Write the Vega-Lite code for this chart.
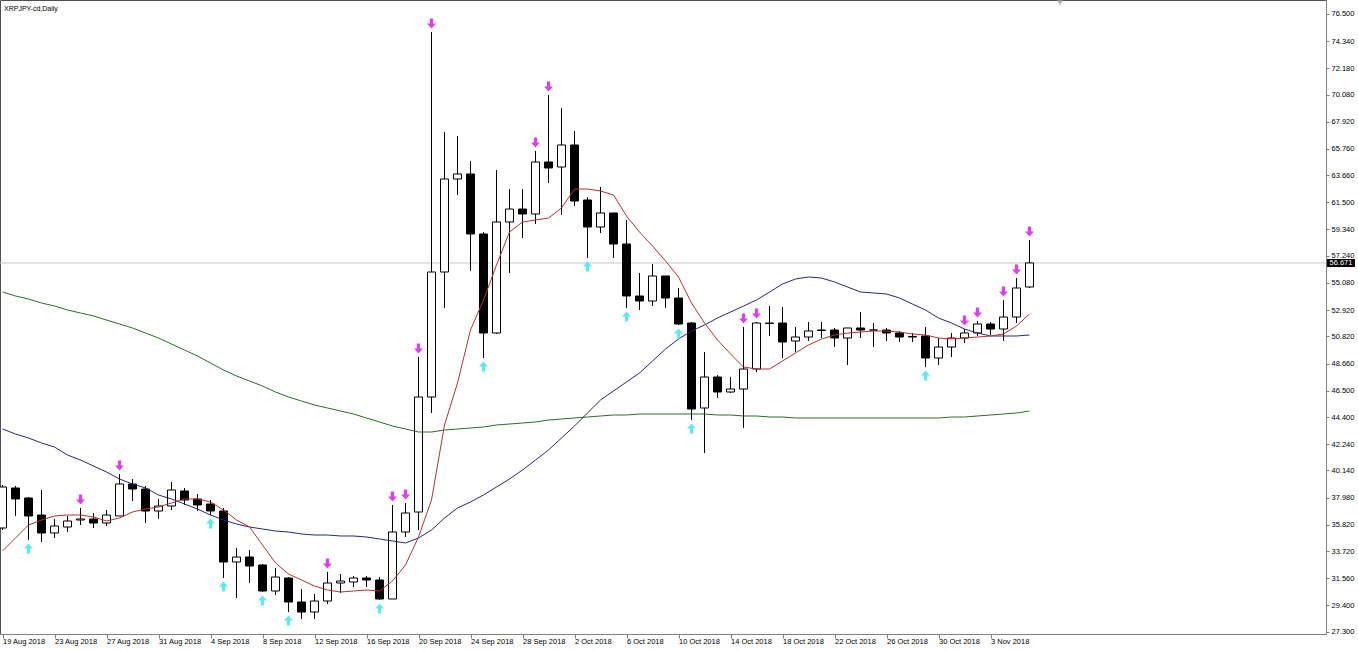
{
  "$schema": "https://vega.github.io/schema/vega-lite/v6.json",
  "width": 1326,
  "height": 634,
  "autosize": {"type": "none"},
  "padding": {"left": 0, "top": 0, "right": 32, "bottom": 17},
  "background": "#ffffff",
  "title": {"text": "XRPJPY-cd,Daily", "anchor": "start", "frame": "group", "offset": -12, "dx": 4, "font": "Liberation Sans", "fontSize": 7, "fontWeight": "normal", "color": "#000000"},
  "datasets": {
    "candles": [
      {"d":"2018-08-19","o":35.56,"h":38.985,"l":35.4,"c":38.825},
      {"d":"2018-08-20","o":38.746,"h":38.905,"l":36.516,"c":37.87},
      {"d":"2018-08-21","o":37.949,"h":38.029,"l":34.604,"c":36.516},
      {"d":"2018-08-22","o":36.595,"h":38.586,"l":34.445,"c":35.162},
      {"d":"2018-08-23","o":35.162,"h":36.277,"l":34.763,"c":35.719},
      {"d":"2018-08-24","o":35.639,"h":36.516,"l":35.241,"c":36.117},
      {"d":"2018-08-25","o":36.197,"h":37.153,"l":35.799,"c":36.277},
      {"d":"2018-08-26","o":36.277,"h":36.755,"l":35.56,"c":35.958},
      {"d":"2018-08-27","o":35.958,"h":36.993,"l":35.719,"c":36.595},
      {"d":"2018-08-28","o":36.516,"h":39.861,"l":36.516,"c":39.064},
      {"d":"2018-08-29","o":39.064,"h":39.463,"l":37.71,"c":38.666},
      {"d":"2018-08-30","o":38.666,"h":38.905,"l":35.958,"c":36.914},
      {"d":"2018-08-31","o":36.914,"h":37.87,"l":36.277,"c":37.312},
      {"d":"2018-09-01","o":37.312,"h":39.224,"l":36.993,"c":38.586},
      {"d":"2018-09-02","o":38.507,"h":38.746,"l":37.392,"c":37.79},
      {"d":"2018-09-03","o":37.87,"h":38.268,"l":36.914,"c":37.392},
      {"d":"2018-09-04","o":37.471,"h":37.79,"l":36.595,"c":36.914},
      {"d":"2018-09-05","o":36.914,"h":37.153,"l":31.577,"c":32.852},
      {"d":"2018-09-06","o":32.852,"h":33.967,"l":29.984,"c":33.25},
      {"d":"2018-09-07","o":33.25,"h":33.807,"l":31.179,"c":32.533},
      {"d":"2018-09-08","o":32.613,"h":32.692,"l":30.462,"c":30.542},
      {"d":"2018-09-09","o":30.542,"h":32.374,"l":30.223,"c":31.657},
      {"d":"2018-09-10","o":31.577,"h":31.657,"l":28.869,"c":29.666},
      {"d":"2018-09-11","o":29.666,"h":30.701,"l":28.312,"c":28.869},
      {"d":"2018-09-12","o":28.869,"h":30.303,"l":28.312,"c":29.745},
      {"d":"2018-09-13","o":29.745,"h":32.055,"l":29.506,"c":31.179},
      {"d":"2018-09-14","o":31.179,"h":31.896,"l":30.383,"c":31.338},
      {"d":"2018-09-15","o":31.259,"h":31.737,"l":30.86,"c":31.577},
      {"d":"2018-09-16","o":31.577,"h":31.737,"l":30.86,"c":31.418},
      {"d":"2018-09-17","o":31.418,"h":31.657,"l":29.825,"c":29.905},
      {"d":"2018-09-18","o":29.905,"h":37.392,"l":29.905,"c":35.241},
      {"d":"2018-09-19","o":35.241,"h":37.551,"l":34.843,"c":36.755},
      {"d":"2018-09-20","o":36.834,"h":49.18,"l":35.4,"c":45.994},
      {"d":"2018-09-21","o":45.994,"h":75.066,"l":44.72,"c":55.95},
      {"d":"2018-09-22","o":55.95,"h":67.101,"l":53.083,"c":63.358},
      {"d":"2018-09-23","o":63.358,"h":66.783,"l":62.083,"c":63.756},
      {"d":"2018-09-24","o":63.756,"h":64.791,"l":56.03,"c":58.977},
      {"d":"2018-09-25","o":58.977,"h":59.136,"l":49.1,"c":51.092},
      {"d":"2018-09-26","o":51.092,"h":64.074,"l":51.012,"c":59.933},
      {"d":"2018-09-27","o":59.933,"h":62.561,"l":55.871,"c":60.968},
      {"d":"2018-09-28","o":60.968,"h":62.561,"l":58.658,"c":60.57},
      {"d":"2018-09-29","o":60.57,"h":65.588,"l":59.773,"c":64.712},
      {"d":"2018-09-30","o":64.712,"h":70.048,"l":63.039,"c":64.234},
      {"d":"2018-10-01","o":64.313,"h":69.013,"l":60.49,"c":66.066},
      {"d":"2018-10-02","o":66.066,"h":67.181,"l":61.207,"c":61.605},
      {"d":"2018-10-03","o":61.685,"h":61.924,"l":57.065,"c":59.534},
      {"d":"2018-10-04","o":59.534,"h":62.72,"l":59.057,"c":60.65},
      {"d":"2018-10-05","o":60.65,"h":60.65,"l":57.065,"c":58.18},
      {"d":"2018-10-06","o":58.18,"h":60.092,"l":53.083,"c":54.039},
      {"d":"2018-10-07","o":54.039,"h":55.871,"l":52.923,"c":53.64},
      {"d":"2018-10-08","o":53.64,"h":56.587,"l":53.242,"c":55.632},
      {"d":"2018-10-09","o":55.632,"h":55.632,"l":53.083,"c":53.879},
      {"d":"2018-10-10","o":53.879,"h":54.676,"l":51.729,"c":51.808},
      {"d":"2018-10-11","o":51.888,"h":51.968,"l":44.162,"c":45.038},
      {"d":"2018-10-12","o":45.118,"h":49.578,"l":41.534,"c":47.587},
      {"d":"2018-10-13","o":47.587,"h":47.746,"l":45.914,"c":46.392},
      {"d":"2018-10-14","o":46.392,"h":47.587,"l":46.313,"c":46.631},
      {"d":"2018-10-15","o":46.631,"h":51.569,"l":43.525,"c":48.224},
      {"d":"2018-10-16","o":48.224,"h":51.968,"l":47.985,"c":51.888},
      {"d":"2018-10-17","o":51.848,"h":53.242,"l":50.853,"c":51.888},
      {"d":"2018-10-18","o":51.888,"h":53.162,"l":49.1,"c":50.375},
      {"d":"2018-10-19","o":50.454,"h":51.569,"l":49.578,"c":50.773},
      {"d":"2018-10-20","o":50.773,"h":51.968,"l":50.454,"c":51.251},
      {"d":"2018-10-21","o":51.291,"h":51.968,"l":50.693,"c":51.33},
      {"d":"2018-10-22","o":51.33,"h":51.49,"l":49.976,"c":50.693},
      {"d":"2018-10-23","o":50.693,"h":51.49,"l":48.543,"c":51.49},
      {"d":"2018-10-24","o":51.49,"h":52.764,"l":50.693,"c":51.33},
      {"d":"2018-10-25","o":51.33,"h":51.888,"l":49.976,"c":51.33},
      {"d":"2018-10-26","o":51.33,"h":51.49,"l":50.454,"c":51.092},
      {"d":"2018-10-27","o":51.092,"h":51.251,"l":50.375,"c":50.773},
      {"d":"2018-10-28","o":50.813,"h":51.092,"l":50.375,"c":50.773},
      {"d":"2018-10-29","o":50.853,"h":51.569,"l":48.383,"c":49.1},
      {"d":"2018-10-30","o":49.1,"h":50.693,"l":48.543,"c":49.976},
      {"d":"2018-10-31","o":49.976,"h":51.092,"l":49.18,"c":50.693},
      {"d":"2018-11-01","o":50.693,"h":51.41,"l":50.295,"c":51.092},
      {"d":"2018-11-02","o":51.092,"h":52.047,"l":50.853,"c":51.808},
      {"d":"2018-11-03","o":51.808,"h":51.968,"l":50.932,"c":51.41},
      {"d":"2018-11-04","o":51.41,"h":53.72,"l":50.454,"c":52.366},
      {"d":"2018-11-05","o":52.366,"h":55.472,"l":51.888,"c":54.676},
      {"d":"2018-11-06","o":54.755,"h":58.499,"l":54.676,"c":56.671}
    ],
    "ma": [
      {"d":"2018-08-19","r":33.728,"b":43.445,"g":54.357},
      {"d":"2018-08-20","r":34.763,"b":43.047,"g":54.039},
      {"d":"2018-08-21","r":35.799,"b":42.728,"g":53.8},
      {"d":"2018-08-22","r":36.197,"b":42.33,"g":53.481},
      {"d":"2018-08-23","r":36.516,"b":42.011,"g":53.242},
      {"d":"2018-08-24","r":36.595,"b":41.374,"g":52.923},
      {"d":"2018-08-25","r":36.595,"b":40.976,"g":52.685},
      {"d":"2018-08-26","r":36.436,"b":40.498,"g":52.446},
      {"d":"2018-08-27","r":36.117,"b":40.02,"g":52.127},
      {"d":"2018-08-28","r":36.356,"b":39.463,"g":51.808},
      {"d":"2018-08-29","r":36.834,"b":39.064,"g":51.49},
      {"d":"2018-08-30","r":37.073,"b":38.746,"g":51.092},
      {"d":"2018-08-31","r":37.232,"b":38.188,"g":50.693},
      {"d":"2018-09-01","r":37.551,"b":37.87,"g":50.215},
      {"d":"2018-09-02","r":37.87,"b":37.471,"g":49.737},
      {"d":"2018-09-03","r":37.87,"b":37.073,"g":49.26},
      {"d":"2018-09-04","r":37.631,"b":36.595,"g":48.702},
      {"d":"2018-09-05","r":36.993,"b":36.197,"g":48.144},
      {"d":"2018-09-06","r":36.197,"b":35.878,"g":47.667},
      {"d":"2018-09-07","r":35.639,"b":35.639,"g":47.268},
      {"d":"2018-09-08","r":34.206,"b":35.48,"g":46.87},
      {"d":"2018-09-09","r":32.772,"b":35.321,"g":46.392},
      {"d":"2018-09-10","r":31.896,"b":35.241,"g":45.994},
      {"d":"2018-09-11","r":31.418,"b":35.082,"g":45.675},
      {"d":"2018-09-12","r":30.94,"b":35.002,"g":45.357},
      {"d":"2018-09-13","r":30.621,"b":35.002,"g":45.118},
      {"d":"2018-09-14","r":30.462,"b":34.923,"g":44.879},
      {"d":"2018-09-15","r":30.542,"b":34.923,"g":44.64},
      {"d":"2018-09-16","r":30.621,"b":34.843,"g":44.321},
      {"d":"2018-09-17","r":30.542,"b":34.684,"g":44.003},
      {"d":"2018-09-18","r":31.338,"b":34.524,"g":43.684},
      {"d":"2018-09-19","r":32.613,"b":34.365,"g":43.445},
      {"d":"2018-09-20","r":34.843,"b":34.763,"g":43.206},
      {"d":"2018-09-21","r":37.79,"b":35.4,"g":43.206},
      {"d":"2018-09-22","r":43.764,"b":36.356,"g":43.365},
      {"d":"2018-09-23","r":47.109,"b":37.153,"g":43.445},
      {"d":"2018-09-24","r":51.33,"b":37.631,"g":43.525},
      {"d":"2018-09-25","r":53.72,"b":38.188,"g":43.604},
      {"d":"2018-09-26","r":56.508,"b":38.825,"g":43.764},
      {"d":"2018-09-27","r":59.136,"b":39.463,"g":43.843},
      {"d":"2018-09-28","r":59.933,"b":40.179,"g":43.923},
      {"d":"2018-09-29","r":60.092,"b":40.976,"g":44.003},
      {"d":"2018-09-30","r":60.251,"b":41.772,"g":44.162},
      {"d":"2018-10-01","r":61.048,"b":42.728,"g":44.242},
      {"d":"2018-10-02","r":62.561,"b":43.684,"g":44.321},
      {"d":"2018-10-03","r":62.561,"b":44.72,"g":44.401},
      {"d":"2018-10-04","r":62.402,"b":45.755,"g":44.481},
      {"d":"2018-10-05","r":62.083,"b":46.472,"g":44.56},
      {"d":"2018-10-06","r":60.411,"b":47.189,"g":44.56},
      {"d":"2018-10-07","r":59.136,"b":47.906,"g":44.64},
      {"d":"2018-10-08","r":58.021,"b":48.861,"g":44.64},
      {"d":"2018-10-09","r":56.826,"b":49.817,"g":44.64},
      {"d":"2018-10-10","r":55.552,"b":50.614,"g":44.64},
      {"d":"2018-10-11","r":53.481,"b":51.251,"g":44.64},
      {"d":"2018-10-12","r":51.888,"b":51.729,"g":44.64},
      {"d":"2018-10-13","r":50.534,"b":52.286,"g":44.56},
      {"d":"2018-10-14","r":49.419,"b":52.764,"g":44.56},
      {"d":"2018-10-15","r":48.383,"b":53.242,"g":44.481},
      {"d":"2018-10-16","r":48.224,"b":53.72,"g":44.481},
      {"d":"2018-10-17","r":48.224,"b":54.357,"g":44.401},
      {"d":"2018-10-18","r":48.861,"b":54.994,"g":44.401},
      {"d":"2018-10-19","r":49.499,"b":55.393,"g":44.321},
      {"d":"2018-10-20","r":50.136,"b":55.552,"g":44.321},
      {"d":"2018-10-21","r":50.614,"b":55.472,"g":44.321},
      {"d":"2018-10-22","r":50.932,"b":55.154,"g":44.321},
      {"d":"2018-10-23","r":51.092,"b":54.755,"g":44.321},
      {"d":"2018-10-24","r":51.171,"b":54.357,"g":44.321},
      {"d":"2018-10-25","r":51.251,"b":54.278,"g":44.321},
      {"d":"2018-10-26","r":51.251,"b":54.198,"g":44.321},
      {"d":"2018-10-27","r":51.171,"b":53.879,"g":44.321},
      {"d":"2018-10-28","r":51.012,"b":53.401,"g":44.321},
      {"d":"2018-10-29","r":50.932,"b":52.923,"g":44.321},
      {"d":"2018-10-30","r":50.693,"b":52.286,"g":44.321},
      {"d":"2018-10-31","r":50.614,"b":51.888,"g":44.401},
      {"d":"2018-11-01","r":50.693,"b":51.41,"g":44.401},
      {"d":"2018-11-02","r":50.773,"b":51.092,"g":44.481},
      {"d":"2018-11-03","r":50.853,"b":50.853,"g":44.56},
      {"d":"2018-11-04","r":51.012,"b":50.853,"g":44.64},
      {"d":"2018-11-05","r":51.649,"b":50.853,"g":44.72},
      {"d":"2018-11-06","r":52.605,"b":50.932,"g":44.879}
    ],
    "fractalHigh": [
      {"d":"2018-08-25","v":37.153},
      {"d":"2018-08-28","v":39.861},
      {"d":"2018-09-13","v":32.055},
      {"d":"2018-09-18","v":37.392},
      {"d":"2018-09-19","v":37.551},
      {"d":"2018-09-20","v":49.18},
      {"d":"2018-09-21","v":75.066},
      {"d":"2018-09-29","v":65.588},
      {"d":"2018-09-30","v":70.048},
      {"d":"2018-10-15","v":51.569},
      {"d":"2018-10-16","v":51.968},
      {"d":"2018-11-01","v":51.41},
      {"d":"2018-11-02","v":52.047},
      {"d":"2018-11-04","v":53.72},
      {"d":"2018-11-05","v":55.472},
      {"d":"2018-11-06","v":58.499}
    ],
    "fractalLow": [
      {"d":"2018-08-21","v":34.604},
      {"d":"2018-09-04","v":36.595},
      {"d":"2018-09-05","v":31.577},
      {"d":"2018-09-08","v":30.462},
      {"d":"2018-09-10","v":28.869},
      {"d":"2018-09-17","v":29.825},
      {"d":"2018-09-25","v":49.1},
      {"d":"2018-10-03","v":57.065},
      {"d":"2018-10-06","v":53.083},
      {"d":"2018-10-10","v":51.729},
      {"d":"2018-10-11","v":44.162},
      {"d":"2018-10-29","v":48.383}
    ],
    "last": [{"p": 56.671}]
  },
  "layer": [
    {
      "data": {"name": "last"},
      "mark": {"type": "rule", "color": "#c4c4c4", "strokeWidth": 1},
      "encoding": {
        "y": {"field": "p", "type": "quantitative", "title": null,
          "scale": {"domain": [27.117, 77.615], "nice": false, "zero": false, "padding": 0},
          "axis": {"orient": "right", "values": [76.5, 74.34, 72.18, 70.08, 67.92, 65.76, 63.66, 61.5, 59.34, 57.24, 55.08, 52.92, 50.82, 48.66, 46.5, 44.4, 42.24, 40.14, 37.98, 35.82, 33.72, 31.56, 29.4, 27.3], "labelExpr": "format(datum.value, '.3f')", "tickSize": 3, "labelPadding": 2, "labelBaseline": "middle", "labelFlush": false, "labelOverlap": false, "grid": false, "title": null}}
      }
    },
    {
      "data": {"name": "candles"},
      "mark": {"type": "rule", "color": "#000000", "strokeWidth": 1},
      "encoding": {
        "x": {"field": "d", "type": "temporal", "title": null,
          "scale": {"type": "utc", "domain": [1534620184615, 1543432984615], "nice": false, "padding": 0},
          "axis": {"orient": "bottom", "labelExpr": "utcFormat(datum.value, '%-d %b %Y')", "values": [{"year": 2018, "month": 8, "date": 19, "utc": true}, {"year": 2018, "month": 8, "date": 23, "utc": true}, {"year": 2018, "month": 8, "date": 27, "utc": true}, {"year": 2018, "month": 8, "date": 31, "utc": true}, {"year": 2018, "month": 9, "date": 4, "utc": true}, {"year": 2018, "month": 9, "date": 8, "utc": true}, {"year": 2018, "month": 9, "date": 12, "utc": true}, {"year": 2018, "month": 9, "date": 16, "utc": true}, {"year": 2018, "month": 9, "date": 20, "utc": true}, {"year": 2018, "month": 9, "date": 24, "utc": true}, {"year": 2018, "month": 9, "date": 28, "utc": true}, {"year": 2018, "month": 10, "date": 2, "utc": true}, {"year": 2018, "month": 10, "date": 6, "utc": true}, {"year": 2018, "month": 10, "date": 10, "utc": true}, {"year": 2018, "month": 10, "date": 14, "utc": true}, {"year": 2018, "month": 10, "date": 18, "utc": true}, {"year": 2018, "month": 10, "date": 22, "utc": true}, {"year": 2018, "month": 10, "date": 26, "utc": true}, {"year": 2018, "month": 10, "date": 30, "utc": true}, {"year": 2018, "month": 11, "date": 3, "utc": true}], "labelAlign": "left", "labelBaseline": "top", "labelPadding": -1, "tickSize": 4, "labelFlush": false, "labelOverlap": false, "grid": false, "title": null}},
        "y": {"field": "l", "type": "quantitative", "title": null, "scale": {"domain": [27.117, 77.615], "nice": false, "zero": false, "padding": 0},
          "axis": {"orient": "right", "values": [76.5, 74.34, 72.18, 70.08, 67.92, 65.76, 63.66, 61.5, 59.34, 57.24, 55.08, 52.92, 50.82, 48.66, 46.5, 44.4, 42.24, 40.14, 37.98, 35.82, 33.72, 31.56, 29.4, 27.3], "labelExpr": "format(datum.value, '.3f')", "tickSize": 3, "labelPadding": 2, "labelBaseline": "middle", "labelFlush": false, "labelOverlap": false, "grid": false, "title": null}},
        "y2": {"field": "h"}
      }
    },
    {
      "data": {"name": "candles"},
      "mark": {"type": "bar", "size": 8, "stroke": "#000000", "strokeWidth": 1},
      "encoding": {
        "x": {"field": "d", "type": "temporal", "title": null, "scale": {"type": "utc", "domain": [1534620184615, 1543432984615], "nice": false, "padding": 0},
          "axis": {"orient": "bottom", "labelExpr": "utcFormat(datum.value, '%-d %b %Y')", "values": [{"year": 2018, "month": 8, "date": 19, "utc": true}, {"year": 2018, "month": 8, "date": 23, "utc": true}, {"year": 2018, "month": 8, "date": 27, "utc": true}, {"year": 2018, "month": 8, "date": 31, "utc": true}, {"year": 2018, "month": 9, "date": 4, "utc": true}, {"year": 2018, "month": 9, "date": 8, "utc": true}, {"year": 2018, "month": 9, "date": 12, "utc": true}, {"year": 2018, "month": 9, "date": 16, "utc": true}, {"year": 2018, "month": 9, "date": 20, "utc": true}, {"year": 2018, "month": 9, "date": 24, "utc": true}, {"year": 2018, "month": 9, "date": 28, "utc": true}, {"year": 2018, "month": 10, "date": 2, "utc": true}, {"year": 2018, "month": 10, "date": 6, "utc": true}, {"year": 2018, "month": 10, "date": 10, "utc": true}, {"year": 2018, "month": 10, "date": 14, "utc": true}, {"year": 2018, "month": 10, "date": 18, "utc": true}, {"year": 2018, "month": 10, "date": 22, "utc": true}, {"year": 2018, "month": 10, "date": 26, "utc": true}, {"year": 2018, "month": 10, "date": 30, "utc": true}, {"year": 2018, "month": 11, "date": 3, "utc": true}], "labelAlign": "left", "labelBaseline": "top", "labelPadding": -1, "tickSize": 4, "labelFlush": false, "labelOverlap": false, "grid": false, "title": null}},
        "y": {"field": "o", "type": "quantitative", "title": null, "scale": {"domain": [27.117, 77.615], "nice": false, "zero": false, "padding": 0},
          "axis": {"orient": "right", "values": [76.5, 74.34, 72.18, 70.08, 67.92, 65.76, 63.66, 61.5, 59.34, 57.24, 55.08, 52.92, 50.82, 48.66, 46.5, 44.4, 42.24, 40.14, 37.98, 35.82, 33.72, 31.56, 29.4, 27.3], "labelExpr": "format(datum.value, '.3f')", "tickSize": 3, "labelPadding": 2, "labelBaseline": "middle", "labelFlush": false, "labelOverlap": false, "grid": false, "title": null}},
        "y2": {"field": "c"},
        "fill": {"condition": {"test": "datum.c >= datum.o", "value": "#ffffff"}, "value": "#000000"}
      }
    },
    {
      "data": {"name": "ma"},
      "mark": {"type": "line", "color": "#2f6a2f", "strokeWidth": 1},
      "encoding": {
        "x": {"field": "d", "type": "temporal", "title": null, "scale": {"type": "utc", "domain": [1534620184615, 1543432984615], "nice": false, "padding": 0},
          "axis": {"orient": "bottom", "labelExpr": "utcFormat(datum.value, '%-d %b %Y')", "values": [{"year": 2018, "month": 8, "date": 19, "utc": true}, {"year": 2018, "month": 8, "date": 23, "utc": true}, {"year": 2018, "month": 8, "date": 27, "utc": true}, {"year": 2018, "month": 8, "date": 31, "utc": true}, {"year": 2018, "month": 9, "date": 4, "utc": true}, {"year": 2018, "month": 9, "date": 8, "utc": true}, {"year": 2018, "month": 9, "date": 12, "utc": true}, {"year": 2018, "month": 9, "date": 16, "utc": true}, {"year": 2018, "month": 9, "date": 20, "utc": true}, {"year": 2018, "month": 9, "date": 24, "utc": true}, {"year": 2018, "month": 9, "date": 28, "utc": true}, {"year": 2018, "month": 10, "date": 2, "utc": true}, {"year": 2018, "month": 10, "date": 6, "utc": true}, {"year": 2018, "month": 10, "date": 10, "utc": true}, {"year": 2018, "month": 10, "date": 14, "utc": true}, {"year": 2018, "month": 10, "date": 18, "utc": true}, {"year": 2018, "month": 10, "date": 22, "utc": true}, {"year": 2018, "month": 10, "date": 26, "utc": true}, {"year": 2018, "month": 10, "date": 30, "utc": true}, {"year": 2018, "month": 11, "date": 3, "utc": true}], "labelAlign": "left", "labelBaseline": "top", "labelPadding": -1, "tickSize": 4, "labelFlush": false, "labelOverlap": false, "grid": false, "title": null}},
        "y": {"field": "g", "type": "quantitative", "title": null, "scale": {"domain": [27.117, 77.615], "nice": false, "zero": false, "padding": 0},
          "axis": {"orient": "right", "values": [76.5, 74.34, 72.18, 70.08, 67.92, 65.76, 63.66, 61.5, 59.34, 57.24, 55.08, 52.92, 50.82, 48.66, 46.5, 44.4, 42.24, 40.14, 37.98, 35.82, 33.72, 31.56, 29.4, 27.3], "labelExpr": "format(datum.value, '.3f')", "tickSize": 3, "labelPadding": 2, "labelBaseline": "middle", "labelFlush": false, "labelOverlap": false, "grid": false, "title": null}}
      }
    },
    {
      "data": {"name": "ma"},
      "mark": {"type": "line", "color": "#27277e", "strokeWidth": 1},
      "encoding": {
        "x": {"field": "d", "type": "temporal", "title": null, "scale": {"type": "utc", "domain": [1534620184615, 1543432984615], "nice": false, "padding": 0},
          "axis": {"orient": "bottom", "labelExpr": "utcFormat(datum.value, '%-d %b %Y')", "values": [{"year": 2018, "month": 8, "date": 19, "utc": true}, {"year": 2018, "month": 8, "date": 23, "utc": true}, {"year": 2018, "month": 8, "date": 27, "utc": true}, {"year": 2018, "month": 8, "date": 31, "utc": true}, {"year": 2018, "month": 9, "date": 4, "utc": true}, {"year": 2018, "month": 9, "date": 8, "utc": true}, {"year": 2018, "month": 9, "date": 12, "utc": true}, {"year": 2018, "month": 9, "date": 16, "utc": true}, {"year": 2018, "month": 9, "date": 20, "utc": true}, {"year": 2018, "month": 9, "date": 24, "utc": true}, {"year": 2018, "month": 9, "date": 28, "utc": true}, {"year": 2018, "month": 10, "date": 2, "utc": true}, {"year": 2018, "month": 10, "date": 6, "utc": true}, {"year": 2018, "month": 10, "date": 10, "utc": true}, {"year": 2018, "month": 10, "date": 14, "utc": true}, {"year": 2018, "month": 10, "date": 18, "utc": true}, {"year": 2018, "month": 10, "date": 22, "utc": true}, {"year": 2018, "month": 10, "date": 26, "utc": true}, {"year": 2018, "month": 10, "date": 30, "utc": true}, {"year": 2018, "month": 11, "date": 3, "utc": true}], "labelAlign": "left", "labelBaseline": "top", "labelPadding": -1, "tickSize": 4, "labelFlush": false, "labelOverlap": false, "grid": false, "title": null}},
        "y": {"field": "b", "type": "quantitative", "title": null, "scale": {"domain": [27.117, 77.615], "nice": false, "zero": false, "padding": 0},
          "axis": {"orient": "right", "values": [76.5, 74.34, 72.18, 70.08, 67.92, 65.76, 63.66, 61.5, 59.34, 57.24, 55.08, 52.92, 50.82, 48.66, 46.5, 44.4, 42.24, 40.14, 37.98, 35.82, 33.72, 31.56, 29.4, 27.3], "labelExpr": "format(datum.value, '.3f')", "tickSize": 3, "labelPadding": 2, "labelBaseline": "middle", "labelFlush": false, "labelOverlap": false, "grid": false, "title": null}}
      }
    },
    {
      "data": {"name": "ma"},
      "mark": {"type": "line", "color": "#b03434", "strokeWidth": 1},
      "encoding": {
        "x": {"field": "d", "type": "temporal", "title": null, "scale": {"type": "utc", "domain": [1534620184615, 1543432984615], "nice": false, "padding": 0},
          "axis": {"orient": "bottom", "labelExpr": "utcFormat(datum.value, '%-d %b %Y')", "values": [{"year": 2018, "month": 8, "date": 19, "utc": true}, {"year": 2018, "month": 8, "date": 23, "utc": true}, {"year": 2018, "month": 8, "date": 27, "utc": true}, {"year": 2018, "month": 8, "date": 31, "utc": true}, {"year": 2018, "month": 9, "date": 4, "utc": true}, {"year": 2018, "month": 9, "date": 8, "utc": true}, {"year": 2018, "month": 9, "date": 12, "utc": true}, {"year": 2018, "month": 9, "date": 16, "utc": true}, {"year": 2018, "month": 9, "date": 20, "utc": true}, {"year": 2018, "month": 9, "date": 24, "utc": true}, {"year": 2018, "month": 9, "date": 28, "utc": true}, {"year": 2018, "month": 10, "date": 2, "utc": true}, {"year": 2018, "month": 10, "date": 6, "utc": true}, {"year": 2018, "month": 10, "date": 10, "utc": true}, {"year": 2018, "month": 10, "date": 14, "utc": true}, {"year": 2018, "month": 10, "date": 18, "utc": true}, {"year": 2018, "month": 10, "date": 22, "utc": true}, {"year": 2018, "month": 10, "date": 26, "utc": true}, {"year": 2018, "month": 10, "date": 30, "utc": true}, {"year": 2018, "month": 11, "date": 3, "utc": true}], "labelAlign": "left", "labelBaseline": "top", "labelPadding": -1, "tickSize": 4, "labelFlush": false, "labelOverlap": false, "grid": false, "title": null}},
        "y": {"field": "r", "type": "quantitative", "title": null, "scale": {"domain": [27.117, 77.615], "nice": false, "zero": false, "padding": 0},
          "axis": {"orient": "right", "values": [76.5, 74.34, 72.18, 70.08, 67.92, 65.76, 63.66, 61.5, 59.34, 57.24, 55.08, 52.92, 50.82, 48.66, 46.5, 44.4, 42.24, 40.14, 37.98, 35.82, 33.72, 31.56, 29.4, 27.3], "labelExpr": "format(datum.value, '.3f')", "tickSize": 3, "labelPadding": 2, "labelBaseline": "middle", "labelFlush": false, "labelOverlap": false, "grid": false, "title": null}}
      }
    },
    {
      "data": {"name": "fractalHigh"},
      "mark": {"type": "point", "filled": true, "opacity": 1, "color": "#d843e8", "size": 100, "yOffset": -8.5, "shape": "M-0.33,-1L0.33,-1L0.33,0L0.9,0L0,1L-0.9,0L-0.33,0Z"},
      "encoding": {
        "x": {"field": "d", "type": "temporal", "title": null, "scale": {"type": "utc", "domain": [1534620184615, 1543432984615], "nice": false, "padding": 0},
          "axis": {"orient": "bottom", "labelExpr": "utcFormat(datum.value, '%-d %b %Y')", "values": [{"year": 2018, "month": 8, "date": 19, "utc": true}, {"year": 2018, "month": 8, "date": 23, "utc": true}, {"year": 2018, "month": 8, "date": 27, "utc": true}, {"year": 2018, "month": 8, "date": 31, "utc": true}, {"year": 2018, "month": 9, "date": 4, "utc": true}, {"year": 2018, "month": 9, "date": 8, "utc": true}, {"year": 2018, "month": 9, "date": 12, "utc": true}, {"year": 2018, "month": 9, "date": 16, "utc": true}, {"year": 2018, "month": 9, "date": 20, "utc": true}, {"year": 2018, "month": 9, "date": 24, "utc": true}, {"year": 2018, "month": 9, "date": 28, "utc": true}, {"year": 2018, "month": 10, "date": 2, "utc": true}, {"year": 2018, "month": 10, "date": 6, "utc": true}, {"year": 2018, "month": 10, "date": 10, "utc": true}, {"year": 2018, "month": 10, "date": 14, "utc": true}, {"year": 2018, "month": 10, "date": 18, "utc": true}, {"year": 2018, "month": 10, "date": 22, "utc": true}, {"year": 2018, "month": 10, "date": 26, "utc": true}, {"year": 2018, "month": 10, "date": 30, "utc": true}, {"year": 2018, "month": 11, "date": 3, "utc": true}], "labelAlign": "left", "labelBaseline": "top", "labelPadding": -1, "tickSize": 4, "labelFlush": false, "labelOverlap": false, "grid": false, "title": null}},
        "y": {"field": "v", "type": "quantitative", "title": null, "scale": {"domain": [27.117, 77.615], "nice": false, "zero": false, "padding": 0},
          "axis": {"orient": "right", "values": [76.5, 74.34, 72.18, 70.08, 67.92, 65.76, 63.66, 61.5, 59.34, 57.24, 55.08, 52.92, 50.82, 48.66, 46.5, 44.4, 42.24, 40.14, 37.98, 35.82, 33.72, 31.56, 29.4, 27.3], "labelExpr": "format(datum.value, '.3f')", "tickSize": 3, "labelPadding": 2, "labelBaseline": "middle", "labelFlush": false, "labelOverlap": false, "grid": false, "title": null}}
      }
    },
    {
      "data": {"name": "fractalLow"},
      "mark": {"type": "point", "filled": true, "opacity": 1, "color": "#5ee8ef", "size": 100, "yOffset": 8.5, "shape": "M-0.33,1L0.33,1L0.33,0L0.9,0L0,-1L-0.9,0L-0.33,0Z"},
      "encoding": {
        "x": {"field": "d", "type": "temporal", "title": null, "scale": {"type": "utc", "domain": [1534620184615, 1543432984615], "nice": false, "padding": 0},
          "axis": {"orient": "bottom", "labelExpr": "utcFormat(datum.value, '%-d %b %Y')", "values": [{"year": 2018, "month": 8, "date": 19, "utc": true}, {"year": 2018, "month": 8, "date": 23, "utc": true}, {"year": 2018, "month": 8, "date": 27, "utc": true}, {"year": 2018, "month": 8, "date": 31, "utc": true}, {"year": 2018, "month": 9, "date": 4, "utc": true}, {"year": 2018, "month": 9, "date": 8, "utc": true}, {"year": 2018, "month": 9, "date": 12, "utc": true}, {"year": 2018, "month": 9, "date": 16, "utc": true}, {"year": 2018, "month": 9, "date": 20, "utc": true}, {"year": 2018, "month": 9, "date": 24, "utc": true}, {"year": 2018, "month": 9, "date": 28, "utc": true}, {"year": 2018, "month": 10, "date": 2, "utc": true}, {"year": 2018, "month": 10, "date": 6, "utc": true}, {"year": 2018, "month": 10, "date": 10, "utc": true}, {"year": 2018, "month": 10, "date": 14, "utc": true}, {"year": 2018, "month": 10, "date": 18, "utc": true}, {"year": 2018, "month": 10, "date": 22, "utc": true}, {"year": 2018, "month": 10, "date": 26, "utc": true}, {"year": 2018, "month": 10, "date": 30, "utc": true}, {"year": 2018, "month": 11, "date": 3, "utc": true}], "labelAlign": "left", "labelBaseline": "top", "labelPadding": -1, "tickSize": 4, "labelFlush": false, "labelOverlap": false, "grid": false, "title": null}},
        "y": {"field": "v", "type": "quantitative", "title": null, "scale": {"domain": [27.117, 77.615], "nice": false, "zero": false, "padding": 0},
          "axis": {"orient": "right", "values": [76.5, 74.34, 72.18, 70.08, 67.92, 65.76, 63.66, 61.5, 59.34, 57.24, 55.08, 52.92, 50.82, 48.66, 46.5, 44.4, 42.24, 40.14, 37.98, 35.82, 33.72, 31.56, 29.4, 27.3], "labelExpr": "format(datum.value, '.3f')", "tickSize": 3, "labelPadding": 2, "labelBaseline": "middle", "labelFlush": false, "labelOverlap": false, "grid": false, "title": null}}
      }
    },
    {
      "data": {"name": "last"},
      "mark": {"type": "rect", "color": "#000000"},
      "encoding": {
        "x": {"datum": {"year": 2018, "month": 11, "date": 28, "hours": 21, "minutes": 14, "utc": true}, "type": "temporal", "title": null,
          "axis": {"orient": "bottom", "labelExpr": "utcFormat(datum.value, '%-d %b %Y')", "values": [{"year": 2018, "month": 8, "date": 19, "utc": true}, {"year": 2018, "month": 8, "date": 23, "utc": true}, {"year": 2018, "month": 8, "date": 27, "utc": true}, {"year": 2018, "month": 8, "date": 31, "utc": true}, {"year": 2018, "month": 9, "date": 4, "utc": true}, {"year": 2018, "month": 9, "date": 8, "utc": true}, {"year": 2018, "month": 9, "date": 12, "utc": true}, {"year": 2018, "month": 9, "date": 16, "utc": true}, {"year": 2018, "month": 9, "date": 20, "utc": true}, {"year": 2018, "month": 9, "date": 24, "utc": true}, {"year": 2018, "month": 9, "date": 28, "utc": true}, {"year": 2018, "month": 10, "date": 2, "utc": true}, {"year": 2018, "month": 10, "date": 6, "utc": true}, {"year": 2018, "month": 10, "date": 10, "utc": true}, {"year": 2018, "month": 10, "date": 14, "utc": true}, {"year": 2018, "month": 10, "date": 18, "utc": true}, {"year": 2018, "month": 10, "date": 22, "utc": true}, {"year": 2018, "month": 10, "date": 26, "utc": true}, {"year": 2018, "month": 10, "date": 30, "utc": true}, {"year": 2018, "month": 11, "date": 3, "utc": true}], "labelAlign": "left", "labelBaseline": "top", "labelPadding": -1, "tickSize": 4, "labelFlush": false, "labelOverlap": false, "grid": false, "title": null}},
        "x2": {"datum": {"year": 2018, "month": 12, "date": 1, "hours": 0, "minutes": 55, "utc": true}},
        "y": {"datum": 56.986, "type": "quantitative", "title": null,
          "axis": {"orient": "right", "values": [76.5, 74.34, 72.18, 70.08, 67.92, 65.76, 63.66, 61.5, 59.34, 57.24, 55.08, 52.92, 50.82, 48.66, 46.5, 44.4, 42.24, 40.14, 37.98, 35.82, 33.72, 31.56, 29.4, 27.3], "labelExpr": "format(datum.value, '.3f')", "tickSize": 3, "labelPadding": 2, "labelBaseline": "middle", "labelFlush": false, "labelOverlap": false, "grid": false, "title": null}},
        "y2": {"datum": 56.348}
      }
    },
    {
      "data": {"name": "last"},
      "mark": {"type": "text", "color": "#ffffff", "font": "Liberation Sans", "fontSize": 7.5, "align": "center", "baseline": "middle"},
      "encoding": {
        "x": {"datum": {"year": 2018, "month": 11, "date": 29, "hours": 23, "minutes": 0, "utc": true}, "type": "temporal", "title": null,
          "axis": {"orient": "bottom", "labelExpr": "utcFormat(datum.value, '%-d %b %Y')", "values": [{"year": 2018, "month": 8, "date": 19, "utc": true}, {"year": 2018, "month": 8, "date": 23, "utc": true}, {"year": 2018, "month": 8, "date": 27, "utc": true}, {"year": 2018, "month": 8, "date": 31, "utc": true}, {"year": 2018, "month": 9, "date": 4, "utc": true}, {"year": 2018, "month": 9, "date": 8, "utc": true}, {"year": 2018, "month": 9, "date": 12, "utc": true}, {"year": 2018, "month": 9, "date": 16, "utc": true}, {"year": 2018, "month": 9, "date": 20, "utc": true}, {"year": 2018, "month": 9, "date": 24, "utc": true}, {"year": 2018, "month": 9, "date": 28, "utc": true}, {"year": 2018, "month": 10, "date": 2, "utc": true}, {"year": 2018, "month": 10, "date": 6, "utc": true}, {"year": 2018, "month": 10, "date": 10, "utc": true}, {"year": 2018, "month": 10, "date": 14, "utc": true}, {"year": 2018, "month": 10, "date": 18, "utc": true}, {"year": 2018, "month": 10, "date": 22, "utc": true}, {"year": 2018, "month": 10, "date": 26, "utc": true}, {"year": 2018, "month": 10, "date": 30, "utc": true}, {"year": 2018, "month": 11, "date": 3, "utc": true}], "labelAlign": "left", "labelBaseline": "top", "labelPadding": -1, "tickSize": 4, "labelFlush": false, "labelOverlap": false, "grid": false, "title": null}},
        "y": {"field": "p", "type": "quantitative", "title": null,
          "axis": {"orient": "right", "values": [76.5, 74.34, 72.18, 70.08, 67.92, 65.76, 63.66, 61.5, 59.34, 57.24, 55.08, 52.92, 50.82, 48.66, 46.5, 44.4, 42.24, 40.14, 37.98, 35.82, 33.72, 31.56, 29.4, 27.3], "labelExpr": "format(datum.value, '.3f')", "tickSize": 3, "labelPadding": 2, "labelBaseline": "middle", "labelFlush": false, "labelOverlap": false, "grid": false, "title": null}},
        "text": {"field": "p", "type": "quantitative", "format": ".3f"}
      }
    },
    {
      "data": {"values": [{"m": 1}]},
      "mark": {"type": "point", "shape": "triangle-down", "filled": true, "opacity": 1, "color": "#b8b8b8", "size": 36},
      "encoding": {
        "x": {"datum": {"year": 2018, "month": 11, "date": 8, "hours": 8, "minutes": 18, "utc": true}, "type": "temporal", "title": null,
          "axis": {"orient": "bottom", "labelExpr": "utcFormat(datum.value, '%-d %b %Y')", "values": [{"year": 2018, "month": 8, "date": 19, "utc": true}, {"year": 2018, "month": 8, "date": 23, "utc": true}, {"year": 2018, "month": 8, "date": 27, "utc": true}, {"year": 2018, "month": 8, "date": 31, "utc": true}, {"year": 2018, "month": 9, "date": 4, "utc": true}, {"year": 2018, "month": 9, "date": 8, "utc": true}, {"year": 2018, "month": 9, "date": 12, "utc": true}, {"year": 2018, "month": 9, "date": 16, "utc": true}, {"year": 2018, "month": 9, "date": 20, "utc": true}, {"year": 2018, "month": 9, "date": 24, "utc": true}, {"year": 2018, "month": 9, "date": 28, "utc": true}, {"year": 2018, "month": 10, "date": 2, "utc": true}, {"year": 2018, "month": 10, "date": 6, "utc": true}, {"year": 2018, "month": 10, "date": 10, "utc": true}, {"year": 2018, "month": 10, "date": 14, "utc": true}, {"year": 2018, "month": 10, "date": 18, "utc": true}, {"year": 2018, "month": 10, "date": 22, "utc": true}, {"year": 2018, "month": 10, "date": 26, "utc": true}, {"year": 2018, "month": 10, "date": 30, "utc": true}, {"year": 2018, "month": 11, "date": 3, "utc": true}], "labelAlign": "left", "labelBaseline": "top", "labelPadding": -1, "tickSize": 4, "labelFlush": false, "labelOverlap": false, "grid": false, "title": null}},
        "y": {"datum": 77.376, "type": "quantitative", "title": null,
          "axis": {"orient": "right", "values": [76.5, 74.34, 72.18, 70.08, 67.92, 65.76, 63.66, 61.5, 59.34, 57.24, 55.08, 52.92, 50.82, 48.66, 46.5, 44.4, 42.24, 40.14, 37.98, 35.82, 33.72, 31.56, 29.4, 27.3], "labelExpr": "format(datum.value, '.3f')", "tickSize": 3, "labelPadding": 2, "labelBaseline": "middle", "labelFlush": false, "labelOverlap": false, "grid": false, "title": null}}
      }
    }
  ],
  "config": {
    "view": {"stroke": "#505050", "strokeWidth": 1},
    "axis": {"labelFont": "Liberation Sans", "labelFontSize": 7.5, "labelColor": "#000000", "domainColor": "#808080", "tickColor": "#808080", "grid": false, "title": null, "labelOverlap": false, "labelFlush": false}
  }
}
